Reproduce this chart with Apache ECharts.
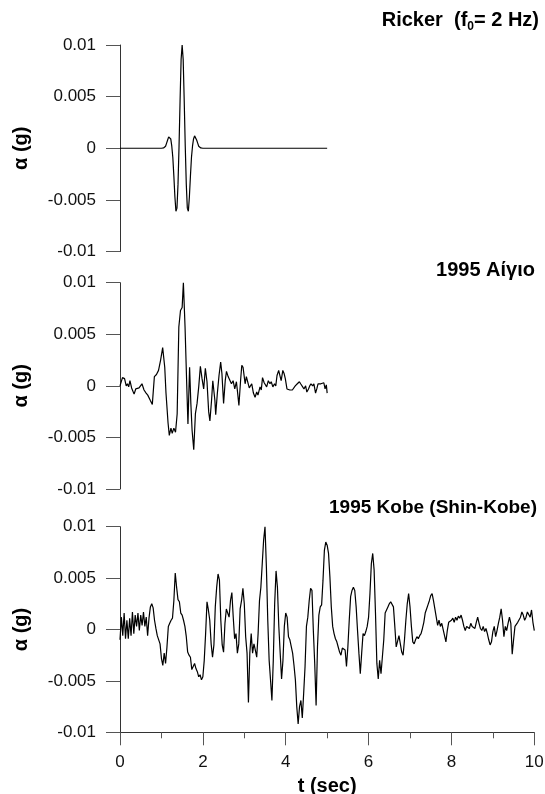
<!DOCTYPE html>
<html>
<head>
<meta charset="utf-8">
<title>Ricker / Aigio / Kobe</title>
<script src="https://cdn.jsdelivr.net/npm/echarts@6/dist/echarts.min.js"></script>
<style>
    html, body { margin: 0; padding: 0; background: #fff; }
    #main { width: 545px; height: 794px; }
</style>
</head>
<body>
<div id="main"></div>
<script>
// ---- data ----
// acceleration ticks (g) and time ticks (sec)
var accTicks = [-0.01, -0.005, 0, 0.005, 0.01];
var timeTicks = [0, 2, 4, 6, 8, 10];

// Ricker pulse, f0 = 2 Hz
var rickerTime = [0, 1.0, 1.025, 1.05, 1.075, 1.1, 1.125, 1.15, 1.175, 1.2, 1.225, 1.25, 1.275, 1.3, 1.325,
    1.35, 1.375, 1.4, 1.425, 1.45, 1.475, 1.5, 1.525, 1.55, 1.575, 1.6, 1.625, 1.65, 1.675, 1.7, 1.725,
    1.75, 1.775, 1.8, 1.825, 1.85, 1.875, 1.9, 1.925, 1.95, 1.975, 2.0, 5.0];
var rickerAcc = [0, 0, 0.00001, 0.00003, 0.0001, 0.0002, 0.0005, 0.0008, 0.0011, 0.0012, 0.0009, 0.0002,
    -0.0009, -0.0027, -0.0047, -0.0061, -0.0058, -0.0035, 0.0002, 0.0046, 0.0086, 0.0100, 0.0086, 0.0046,
    0.0002, -0.0035, -0.0058, -0.0061, -0.0047, -0.0027, -0.0009, 0.0002, 0.0009, 0.0012, 0.0011, 0.0008,
    0.0005, 0.0002, 0.0001, 0.00003, 0.00001, 0, 0];

// 1995 Aigio record
var aigioTime = [0.00, 0.06, 0.11, 0.15, 0.18, 0.21, 0.24, 0.28, 0.34, 0.38, 0.42, 0.46, 0.53, 0.58, 0.63,
    0.67, 0.73, 0.78, 0.83, 0.88, 0.93, 0.98, 1.03, 1.08, 1.11, 1.16, 1.19, 1.23, 1.26, 1.30, 1.34, 1.38,
    1.42, 1.46, 1.50, 1.53, 1.57, 1.61, 1.64, 1.68, 1.71, 1.74, 1.78, 1.82, 1.86, 1.90, 1.94, 1.98, 2.02,
    2.06, 2.10, 2.14, 2.17, 2.21, 2.24, 2.29, 2.31, 2.35, 2.39, 2.43, 2.46, 2.50, 2.54, 2.57, 2.61, 2.65,
    2.69, 2.73, 2.77, 2.81, 2.84, 2.87, 2.91, 2.94, 2.97, 3.02, 3.05, 3.08, 3.12, 3.15, 3.18, 3.22, 3.26,
    3.30, 3.33, 3.38, 3.41, 3.44, 3.48, 3.51, 3.54, 3.58, 3.62, 3.65, 3.69, 3.73, 3.76, 3.79, 3.83, 3.86,
    3.89, 3.93, 3.96, 3.99, 4.03, 4.06, 4.10, 4.13, 4.16, 4.20, 4.23, 4.28, 4.33, 4.36, 4.40, 4.44, 4.48,
    4.51, 4.55, 4.58, 4.61, 4.65, 4.68, 4.72, 4.75, 4.78, 4.82, 4.85, 4.88, 4.92, 4.95, 4.98, 5.00];
var aigioAcc = [0, 0.0008, 0.0007, 0.0000, 0.0002, -0.0001, 0.0005, -0.0002, -0.0008, -0.0003,
    -0.0004, -0.0002, 0.0002, -0.0004, -0.0007, -0.0009, -0.0014, -0.0018, 0.0009, 0.0011,
    0.0015, 0.0025, 0.0037, 0.0018, -0.0007, -0.0036, -0.0048, -0.0041, -0.0046, -0.0041,
    -0.0045, -0.0027, 0.0057, 0.0073, 0.0076, 0.0100, 0.0057, 0.0002, -0.0037, 0.0018,
    -0.0017, -0.0043, -0.0062, -0.0027, -0.0017, -0.0001, 0.0019, 0.0007, -0.0003, 0.0017,
    0.0004, -0.0025, -0.0034, -0.0014, 0.0005, -0.0014, -0.0028, -0.0007, 0.0010, 0.0023,
    0.0012, -0.0017, 0.0005, 0.0014, 0.0009, 0.0010, 0.0002, 0.0005, -0.0003, 0.0004,
    -0.0007, -0.0019, 0.0005, 0.0020, 0.0018, 0.0002, 0.0009, 0.0009, -0.0002, -0.0003,
    0.0002, -0.0007, -0.0011, -0.0006, -0.0009, -0.0001, -0.0004, 0.0008, 0.0003, 0.0002,
    -0.0001, 0.0005, 0.0002, 0.0004, -0.0001, 0.0002, 0.0000, 0.0010, 0.0015, 0.0010,
    0.0005, 0.0015, 0.0012, 0.0007, -0.0003, -0.0003, -0.0004, -0.0004, -0.0004, -0.0003,
    0.0000, 0.0002, 0.0004, 0.0002, 0.0002, -0.0003, 0.0000, -0.0006, -0.0003, 0.0000,
    0.0002, 0.0000, 0.0002, -0.0007, -0.0003, 0.0002, 0.0003, 0.0002, 0.0001, 0.0003,
    -0.0003, 0.0001, -0.0007];

// 1995 Kobe (Shin-Kobe), sampled every 10/300 s
var kobeDt = 10 / 300;
var kobeAcc = [-0.0010, 0.0012, -0.0006, 0.0016, -0.0009, 0.0009, -0.0009, 0.0011, -0.0006, 0.0017,
    -0.0004, 0.0014, 0.0003, 0.0016, -0.0001, 0.0014, 0.0004, 0.0017, 0.0003, 0.0012,
    -0.0006, 0.0011, 0.0022, 0.0025, 0.0021, 0.0009, 0.0001, -0.0006, -0.0007, -0.0014,
    -0.0028, -0.0035, -0.0023, -0.0033, -0.0017, 0.0003, 0.0006, 0.0009, 0.0011, 0.0028,
    0.0055, 0.0041, 0.0029, 0.0027, 0.0016, 0.0014, 0.0009, 0.0003, -0.0007, -0.0022,
    -0.0025, -0.0027, -0.0039, -0.0036, -0.0033, -0.0038, -0.0041, -0.0046, -0.0044, -0.0049,
    -0.0046, -0.0030, -0.0004, 0.0027, 0.0019, 0.0009, -0.0014, -0.0027, -0.0015, 0.0022,
    0.0041, 0.0054, 0.0048, 0.0009, -0.0015, -0.0022, 0.0006, 0.0020, 0.0019, 0.0012,
    0.0028, 0.0036, 0.0012, -0.0009, -0.0004, -0.0023, -0.0014, 0.0020, 0.0028, 0.0040,
    0.0025, -0.0007, -0.0023, -0.0071, -0.0023, -0.0004, -0.0023, -0.0014, -0.0020, -0.0027,
    -0.0004, 0.0028, 0.0041, 0.0064, 0.0087, 0.0100, 0.0061, 0.0009, -0.0030, -0.0049,
    -0.0069, -0.0030, 0.0025, 0.0057, 0.0041, 0.0003, -0.0023, -0.0048, -0.0030, 0.0003,
    0.0016, 0.0012, -0.0007, -0.0010, -0.0009, -0.0023, -0.0035, -0.0049, -0.0075, -0.0092,
    -0.0075, -0.0069, -0.0086, -0.0062, -0.0036, 0.0003, 0.0012, 0.0028, 0.0040, 0.0038,
    -0.0001, -0.0033, -0.0074, -0.0017, 0.0014, 0.0022, 0.0024, 0.0048, 0.0077, 0.0085,
    0.0082, 0.0074, 0.0051, 0.0022, 0.0003, -0.0004, -0.0009, -0.0012, -0.0017, -0.0022,
    -0.0025, -0.0018, -0.0017, -0.0020, -0.0036, -0.0017, 0.0009, 0.0032, 0.0038, 0.0041,
    0.0038, 0.0022, -0.0001, -0.0023, -0.0043, -0.0023, -0.0004, -0.0006, -0.0002, 0.0003,
    0.0012, 0.0035, 0.0064, 0.0074, 0.0058, 0.0016, -0.0033, -0.0048, -0.0030, -0.0043,
    -0.0044, -0.0010, 0.0016, 0.0019, 0.0022, 0.0025, 0.0027, 0.0028, 0.0022, 0.0003,
    -0.0017, -0.0017, -0.0006, -0.0014, -0.0022, -0.0025, -0.0010, 0.0009, 0.0025, 0.0035,
    0.0022, 0.0003, -0.0012, -0.0014, -0.0010, -0.0007, -0.0009, -0.0006, -0.0004, 0.0001,
    0.0007, 0.0016, 0.0020, 0.0024, 0.0028, 0.0033, 0.0035, 0.0028, 0.0020, 0.0012,
    0.0004, 0.0009, 0.0003, 0.0006, 0.0007, -0.0006, -0.0012, -0.0001, 0.0007, 0.0006,
    0.0009, 0.0011, 0.0007, 0.0012, 0.0009, 0.0013, 0.0011, 0.0014, 0.0009, 0.0003,
    -0.0001, 0.0003, 0.0004, 0.0001, 0.0006, 0.0003, 0.0004, 0.0001, 0.0007, 0.0012,
    0.0006, 0.0001, -0.0001, 0.0003, -0.0002, 0.0001, -0.0004, -0.0010, -0.0015, -0.0012,
    -0.0002, 0.0003, -0.0007, -0.0001, 0.0006, 0.0012, 0.0020, 0.0009, -0.0007, 0.0003,
    -0.0001, 0.0006, 0.0012, 0.0006, -0.0024, -0.0010, 0.0003, 0.0004, 0.0007, 0.0006,
    0.0012, 0.0017, 0.0014, 0.0009, 0.0012, 0.0017, 0.0016, 0.0012, 0.0019, 0.0007,
    -0.0001];

var panelTitles = ['Ricker  (f0= 2 Hz)', '1995 Αίγιο', '1995 Kobe (Shin-Kobe)'];

(function () {
    var font = '"Liberation Sans", Arial, Helvetica, sans-serif';
    var axisColor = '#333';
    var boldSize = 20;   // titles and axis names
    var tickSize = 17;   // tick labels

    // pair up time and acceleration
    function pairs(t, a) {
        return t.map(function (v, i) { return [v, a[i]]; });
    }
    var kobeTime = kobeAcc.map(function (a, i) { return i * kobeDt; });

    // the three plot boxes, same x span
    var boxes = [
        {top: 45, height: 206.5},
        {top: 282.7, height: 206.3},
        {top: 526.7, height: 205.6}
    ];
    var grid = boxes.map(function (b) {
        return {left: 120, right: 10.7, top: b.top, height: b.height, containLabel: false, outerBoundsMode: 'none'};
    });

    // y axis is the same for every panel
    function accAxis(i) {
        return {
            type: 'value',
            gridIndex: i,
            min: accTicks[0],
            max: accTicks[accTicks.length - 1],
            interval: accTicks[1] - accTicks[0],
            name: 'α (g)',
            nameLocation: 'middle',
            nameRotate: 90,
            nameGap: 89,
            nameTextStyle: {fontSize: boldSize, fontWeight: 'bold', color: '#000', fontFamily: font},
            axisLine: {show: true, onZero: false, lineStyle: {color: axisColor, width: 1}},
            axisTick: {show: true, inside: false, length: 14, lineStyle: {color: '#555', width: 1}},
            axisLabel: {margin: 24, fontSize: tickSize, color: '#111', fontFamily: font},
            splitLine: {show: false}
        };
    }

    var xAxis = [0, 1, 2].map(function (i) {
        var ax = {
            type: 'value',
            gridIndex: i,
            min: timeTicks[0],
            max: timeTicks[timeTicks.length - 1],
            interval: timeTicks[1] - timeTicks[0],
            show: i === 2,
            splitLine: {show: false}
        };
        if (i === 2) {
            ax.name = 't (sec)';
            ax.nameLocation = 'middle';
            ax.nameGap = 44;
            ax.nameTextStyle = {fontSize: boldSize, fontWeight: 'bold', color: '#000', fontFamily: font};
            ax.axisLine = {show: true, onZero: false, lineStyle: {color: axisColor, width: 1}};
            ax.axisTick = {show: true, inside: false, length: 13, lineStyle: {color: '#555', width: 1}};
            ax.minorTick = {show: true, splitNumber: 2, length: 6, lineStyle: {color: '#555', width: 1}};
            ax.axisLabel = {margin: 22, fontSize: tickSize, color: '#111', fontFamily: font};
        }
        return ax;
    });

    var titleStyle = {fontSize: boldSize, fontWeight: 'bold', color: '#000', fontFamily: font};
    var title = [
        {
            // subscript 0 via rich text
            text: '{a|Ricker  (f}{s|0}{a|= 2 Hz)}',
            right: 6, top: 9, padding: 0,
            textStyle: {
                rich: {
                    a: {fontSize: boldSize, fontWeight: 'bold', color: '#000', fontFamily: font, lineHeight: 23},
                    s: {fontSize: 12, fontWeight: 'bold', color: '#000', fontFamily: font, lineHeight: 12, padding: [12, 0, 0, 0]}
                }
            }
        },
        {text: panelTitles[1], right: 10, top: 260, padding: 0, textStyle: titleStyle},
        // kobe title is a touch narrower in the figure
        {text: panelTitles[2], right: 8, top: 498, padding: 0,
            textStyle: {fontSize: 19, fontWeight: 'bold', color: '#000', fontFamily: font}}
    ];

    var lines = [pairs(rickerTime, rickerAcc), pairs(aigioTime, aigioAcc), pairs(kobeTime, kobeAcc)];
    var series = lines.map(function (d, i) {
        return {
            type: 'line',
            xAxisIndex: i,
            yAxisIndex: i,
            data: d,
            symbol: 'none',
            silent: true,
            lineStyle: {color: '#000', width: 1.2}
        };
    });

    var option = {
        animation: false,
        backgroundColor: '#fff',
        title: title,
        grid: grid,
        xAxis: xAxis,
        yAxis: [0, 1, 2].map(accAxis),
        series: series
    };
    var myechart = echarts.init(document.getElementById('main'), null, {renderer: 'canvas'});
    myechart.setOption(option);
})();
</script>
</body>
</html>
